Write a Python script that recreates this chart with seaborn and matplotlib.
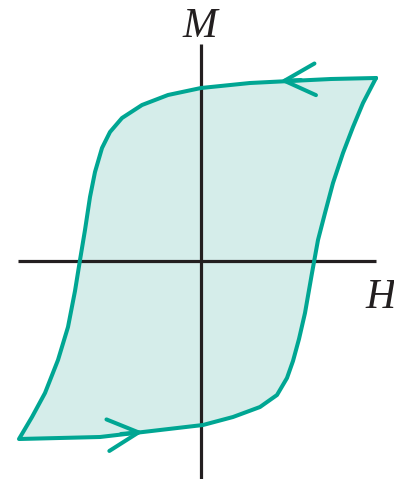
import matplotlib
matplotlib.use("Agg")
import matplotlib.pyplot as plt
import seaborn as sns

sns.set_theme(style="white")
plt.rcParams["font.family"] = ["Liberation Serif", "DejaVu Serif"]

# Hysteresis loop: descending branch (H decreasing) and ascending branch
upper_H = [175, 130, 89, 49, 0, -33, -59, -79, -91, -99, -106, -111, -116,
           -121, -126, -133, -143, -156, -169, -182]
upper_M = [183, 182, 180, 178, 173, 166, 156, 143, 129, 113, 89, 64, 31,
           1, -30, -66, -99, -132, -156, -178]
lower_H = [-182, -101, -58, 2, 32, 59, 76, 86, 92, 98, 104, 111, 117,
           124, 132, 142, 152, 162, 175]
lower_M = [-178, -176, -171, -164, -156, -146, -134, -117, -100, -78, -52,
           -12, 21, 48, 78, 108, 134, 158, 183]

axis_labels = ["H", "M"]

curve_color = "#00a693"
fill_color = "#d5edea"
axis_color = "#231f20"

fig = plt.figure(figsize=(3.94, 4.79), dpi=100)
ax = fig.add_axes([0, 0, 1, 1])
ax.set_xlim(-201, 193)
ax.set_ylim(-218, 261)
ax.axis("off")

loop_H = upper_H + lower_H[1:]
loop_M = upper_M + lower_M[1:]
ax.fill(loop_H, loop_M, color=fill_color, zorder=1, lw=0)

# coordinate axes
ax.plot([-183, 175], [0, 0], color=axis_color, lw=2.3, zorder=2,
        solid_capstyle="butt")
ax.plot([0, 0], [217, -220], color=axis_color, lw=2.3, zorder=2,
        solid_capstyle="butt")

sns.lineplot(x=loop_H, y=loop_M, sort=False, estimator=None, ax=ax,
             color=curve_color, lw=2.9, zorder=3)
ax.lines[-1].set_solid_joinstyle("round")

# direction arrows along the branches
arrow_kw = dict(arrowstyle="->,head_length=1.85,head_width=0.95",
                color=curve_color, lw=2.9, shrinkA=0, shrinkB=0)
ax.annotate("", xy=(79, 180), xytext=(100, 181), arrowprops=arrow_kw,
            zorder=4)
ax.annotate("", xy=(-58, -171), xytext=(-80, -173), arrowprops=arrow_kw,
            zorder=4)

ax.text(-1, 224, axis_labels[1], fontsize=30, style="italic",
        ha="center", va="baseline", color=axis_color)
ax.text(164, -47, axis_labels[0], fontsize=30, style="italic",
        ha="left", va="baseline", color=axis_color)

fig.savefig("out.png", dpi=100)
